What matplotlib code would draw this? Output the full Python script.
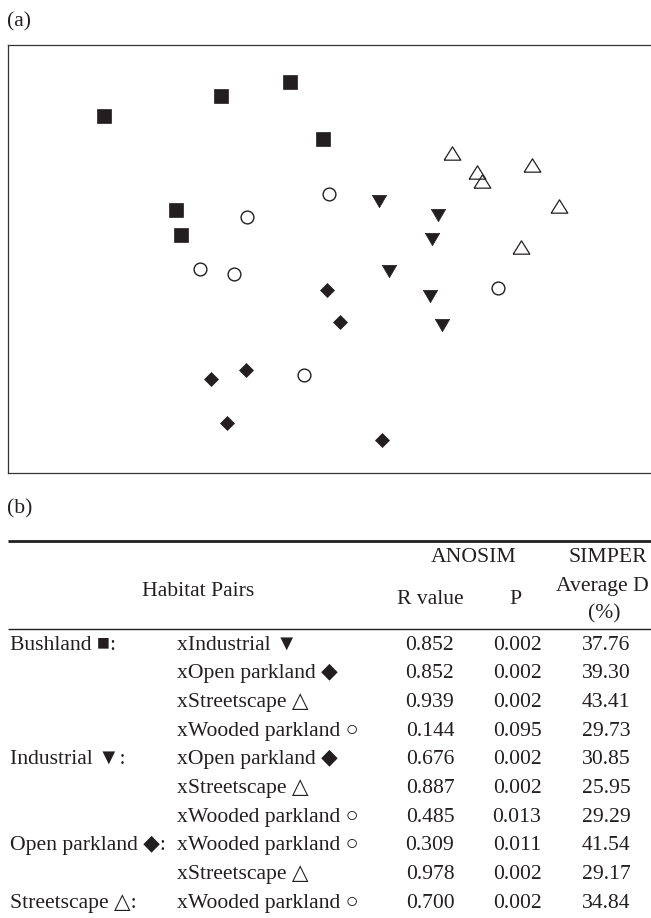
import matplotlib
matplotlib.use("Agg")
import matplotlib.pyplot as plt

# ---------------- data ----------------
bush_x = [-2.26, -1.09, -0.40, -0.07, -1.54, -1.49]
bush_y = [1.44, 1.64, 1.78, 1.21, 0.50, 0.25]

wood_x = [-0.83, -0.01, -1.30, -0.96, -0.26, 1.68]
wood_y = [0.43, 0.66, -0.09, -0.14, -1.15, -0.28]

ind_x = [0.49, 1.08, 1.02, 0.59, 1.00, 1.12]
ind_y = [0.59, 0.45, 0.21, -0.11, -0.36, -0.65]

open_x = [-0.03, 0.10, 0.52, -1.19, -0.84, -1.03]
open_y = [-0.30, -0.62, -1.80, -1.19, -1.10, -1.63]

street_x = [1.22, 1.47, 1.52, 2.02, 2.29, 1.91]
street_y = [1.07, 0.88, 0.79, 0.95, 0.54, 0.13]

stress = 0.13

group_labels = ["Bushland \u25A0:", "", "", "",
                "Industrial \u25BC:", "", "",
                "Open parkland \u25C6:", "",
                "Streetscape \u25B3:"]
pair_labels = ["xIndustrial \u25BC", "xOpen parkland \u25C6", "xStreetscape \u25B3",
               "xWooded parkland \u25CB", "xOpen parkland \u25C6", "xStreetscape \u25B3",
               "xWooded parkland \u25CB", "xWooded parkland \u25CB", "xStreetscape \u25B3",
               "xWooded parkland \u25CB"]
r_values = ["0.852", "0.852", "0.939", "0.144", "0.676", "0.887", "0.485", "0.309", "0.978", "0.700"]
p_values = ["0.002", "0.002", "0.002", "0.095", "0.002", "0.002", "0.013", "0.011", "0.002", "0.002"]
simper_values = ["37.76", "39.30", "43.41", "29.73", "30.85", "25.95", "29.29", "41.54", "29.17", "34.84"]

# ---------------- style ----------------
FONT = ["Liberation Serif", "DejaVu Sans"]
plt.rcParams["font.family"] = FONT
FS = 15.6
INK = "#231f20"

W, H = 651, 918
fig = plt.figure(figsize=(W / 100, H / 100), dpi=100)

# background axes in pixel coordinates for labels and table
bg = fig.add_axes([0, 0, 1, 1])
bg.set_xlim(0, W)
bg.set_ylim(H, 0)
bg.axis("off")

bg.text(7, 22, "(a)", fontsize=FS, ha="left", va="center", color=INK)
bg.text(7, 509, "(b)", fontsize=FS, ha="left", va="center", color=INK)

# ---------------- panel (a): NMDS ----------------
left_px, right_px, top_px, bot_px = 8, 651, 45, 473
ax = fig.add_axes([left_px / W, 1 - bot_px / H, (right_px - left_px) / W, (bot_px - top_px) / H])
ax.set_xlim(-3.22, 3.21)
ax.set_ylim(-2.13, 2.15)
ax.set_xticks([])
ax.set_yticks([])
for s in ["left", "top", "bottom"]:
    ax.spines[s].set_linewidth(0.9)
    ax.spines[s].set_color("#333333")
ax.spines["right"].set_visible(False)

up_tri = [(-1, -0.8), (1, -0.8), (0, 0.8), (-1, -0.8)]
down_tri = [(-1, 0.86), (1, 0.86), (0, -0.86), (-1, 0.86)]

ax.plot(bush_x, bush_y, ls="none", marker="s", ms=10, mfc=INK, mec=INK, mew=0.5)
ax.plot(wood_x, wood_y, ls="none", marker="o", ms=9.2, mfc="white", mec=INK, mew=1.0)
ax.plot(ind_x, ind_y, ls="none", marker=down_tri, ms=10.3, mfc=INK, mec=INK, mew=0.5)
ax.plot(open_x, open_y, ls="none", marker="D", ms=7.4, mfc=INK, mec=INK, mew=0.5)
ax.plot(street_x, street_y, ls="none", marker=up_tri, ms=12, mfc="none", mec=INK, mew=0.9)

bg.text(638, 65, f"Stress: {stress:.2f}", fontsize=FS, ha="right", va="center", color=INK, zorder=5)

# ---------------- panel (b): table ----------------
bg.plot([8, W], [541, 541], color=INK, lw=2.0, solid_capstyle="butt")
bg.plot([8, W], [629, 629], color=INK, lw=1.0, solid_capstyle="butt")

bg.text(198, 592, "Habitat Pairs", fontsize=FS, ha="center", va="center", color=INK)
bg.text(474, 558, "ANOSIM", fontsize=FS, ha="center", va="center", color=INK)
bg.text(608, 558, "SIMPER", fontsize=FS, ha="center", va="center", color=INK)
bg.text(430, 600, "R value", fontsize=FS, ha="center", va="center", color=INK)
bg.text(515, 600, "P", fontsize=FS, ha="center", va="center", color=INK)
bg.text(649, 587, "Average D", fontsize=FS, ha="right", va="center", color=INK)
bg.text(604, 614, "(%)", fontsize=FS, ha="center", va="center", color=INK)

row0, dy = 645, 28.67
for i in range(len(pair_labels)):
    y = row0 + i * dy
    if group_labels[i]:
        bg.text(10, y, group_labels[i], fontsize=FS, ha="left", va="center", color=INK)
    bg.text(177, y, pair_labels[i], fontsize=FS, ha="left", va="center", color=INK)
    bg.text(430, y, r_values[i], fontsize=FS, ha="center", va="center", color=INK)
    bg.text(517, y, p_values[i], fontsize=FS, ha="center", va="center", color=INK)
    bg.text(606, y, simper_values[i], fontsize=FS, ha="center", va="center", color=INK)

fig.savefig("out.png", dpi=100)
